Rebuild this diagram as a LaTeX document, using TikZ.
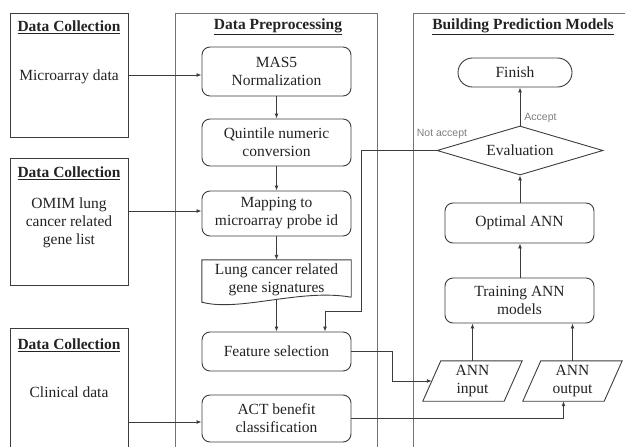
\documentclass[tikz,border=0pt]{standalone}
\usepackage{fontspec}
\setmainfont{Liberation Serif}
\newfontfamily\tagfont{Liberation Sans}
\usepackage{tikz}
\usetikzlibrary{arrows.meta,shapes.geometric,calc}
\definecolor{LineGray}{RGB}{60,60,60}
\definecolor{PanelGray}{RGB}{115,115,115}
\definecolor{TextGray}{RGB}{35,35,35}
\definecolor{TagGray}{RGB}{125,125,125}

\begin{document}
\begin{tikzpicture}[x=1pt, y=-1pt,
    font=\fontsize{15.5}{18}\selectfont, text=TextGray,
    proc/.style={draw=LineGray, line width=0.9pt, rounded corners=8pt, minimum width=149pt, align=center, inner sep=0pt},
    boxline/.style={draw=LineGray, line width=0.9pt},
    panel/.style={draw=PanelGray, line width=0.9pt},
    title/.style={font=\fontsize{15.5}{18}\selectfont\bfseries},
    tag/.style={font=\fontsize{10.5}{12}\selectfont\tagfont, text=TagGray, inner sep=1pt},
    arr/.style={draw=LineGray, line width=0.9pt, -{Latex[length=5pt,width=4pt]}}]
      \useasboundingbox (0,0) rectangle (625,447);
      % panels
      \draw[panel] (175,447) |- (377,13) -- (377,447);
      \draw[panel] (413,447) |- (625,13);
      \node[title] at (278,27) {\underline{Data Preprocessing}};
      \node[title] at (523,27) {\underline{Building Prediction Models}};
      % data collection boxes
      \node[boxline, minimum width=118pt, minimum height=124pt, inner sep=0pt] (micbox) at (69,75) {};
      \node[boxline, minimum width=118pt, minimum height=127pt, inner sep=0pt] (omimbox) at (69,221.5) {};
      \draw[boxline] (10,447) |- (128,328) -- (128,447);
      \coordinate (clinedge) at (128,422);
      \node[title] at (69,27) {\underline{Data Collection}};
      \node[title] at (69,173) {\underline{Data Collection}};
      \node[title] at (69,345) {\underline{Data Collection}};
      \node (mic) at (69,77) {Microarray data};
      \node[align=center] (omim) at (69,223) {OMIM lung\\cancer related\\gene list};
      \node (clin) at (69,392) {Clinical data};
      % preprocessing steps
      \node[proc, minimum height=49pt] (mas) at (276.5,71.5) {MAS5\\Normalization};
      \node[proc, minimum height=47pt] (quin) at (276.5,142.5) {Quintile numeric\\conversion};
      \node[proc, minimum height=45pt] (map) at (276.5,213.5) {Mapping to\\microarray probe id};
      \node[minimum width=149pt, minimum height=40pt, align=center, inner sep=0pt] (lung) at (276.5,280) {Lung cancer related\\gene signatures};
      \draw[boxline] (lung.south east) ++(0,-3) -- (lung.north east) -- (lung.north west) -- ($(lung.south west)+(0,2)$)
        .. controls +(38,10) and +(-51,-9) .. ($(lung.south east)+(0,-3)$);
      \node[proc, minimum height=39pt] (feat) at (276.5,351.5) {Feature selection};
      \node[proc, minimum height=47pt] (act) at (276.5,418.5) {ACT benefit\\classification};
      % model building
      \node[draw=LineGray, line width=0.9pt, rounded corners=14.5pt, minimum width=114pt, minimum height=29pt] (fin) at (515,72.5) {Finish};
      \node[draw=LineGray, line width=0.9pt, diamond, aspect=3.4, inner sep=0pt, minimum width=166pt, minimum height=49pt] (eval) at (520,150.5) {Evaluation};
      \node[proc, minimum height=40pt] (opt) at (519.5,223) {Optimal ANN};
      \node[proc, minimum height=45pt] (train) at (519.5,300.5) {Training ANN\\models};
      \node[minimum width=81pt, minimum height=40pt, align=center, inner sep=0pt] (ain) at (472.5,381) {ANN\\input};
      \node[minimum width=81pt, minimum height=40pt, align=center, inner sep=0pt] (aout) at (572.5,381) {ANN\\output};
      \foreach \p in {ain,aout}
        \draw[boxline] ([xshift=-9pt]\p.south west) -- ([xshift=9pt]\p.north west) -- ([xshift=9pt]\p.north east) -- ([xshift=-9pt]\p.south east) -- cycle;
      % connectors
      \draw[arr] (micbox.east |- 0,75) -- (mas.west |- 0,75);
      \draw[arr] (omimbox.east |- map.west) ++(0,-2.5) -- ([yshift=2.5pt]map.west);
      \draw[arr] (clinedge) -- (act.west |- clinedge);
      \draw[arr] (mas) -- (quin);
      \draw[arr] (quin) -- (map);
      \draw[arr] (map) -- (lung.north);
      \draw[arr] (lung.south) -- (feat.north);
      \draw[arr] (eval.west) -- ++(-75,0) |- ([xshift=48.5pt,yshift=20pt]feat.north) -- ([xshift=48.5pt]feat.north);
      \draw[arr] (feat.east) -- ++(41,0) |- (ain.west);
      \draw[arr] (act.east) -| ([xshift=-9pt]aout.south);
      \draw[arr] (ain.north) -- (ain.north |- train.south);
      \draw[arr] (aout.north) -- (aout.north |- train.south);
      \draw[arr] (train.north -| eval) -- (opt.south -| eval);
      \draw[arr] (opt.north -| eval) -- (eval.south);
      \draw[arr] (eval.north) -- (eval.north |- fin.south) node[tag, pos=0.2, anchor=west, xshift=3pt] {Accept};
      \node[tag] at (442,134) {Not accept};
    \end{tikzpicture}
\end{document}
